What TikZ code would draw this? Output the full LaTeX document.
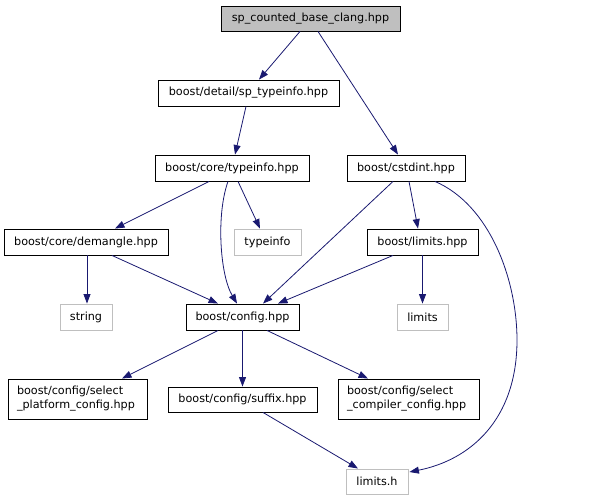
\documentclass[tikz,border=0pt]{standalone}
\usepackage{fontspec}
\setmainfont{DejaVu Sans}
\usetikzlibrary{arrows.meta}
\definecolor{edgeblue}{HTML}{191970}
\definecolor{sysgray}{HTML}{BFBFBF}
\tikzset{
  box/.style={draw=black, line width=0.9pt, fill=white, inner sep=0pt, minimum height=26pt,
    font=\fontsize{11.2}{14}\selectfont},
  sysbox/.style={box, draw=sysgray},
  topbox/.style={box, fill=sysgray},
  twoline/.style={align=left, minimum height=40pt},
  dep/.style={draw=edgeblue, line width=0.8pt, -{Triangle[length=9.5pt,width=7pt]}}
}
\begin{document}
\begin{tikzpicture}[x=1pt,y=-1pt]
\useasboundingbox (0,0) rectangle (597,500);
\node[topbox, minimum width=179pt, minimum height=25pt] (top) at (310.5,18.5) {sp\_counted\_base\_clang.hpp};
\node[box, minimum width=181pt] (sptype) at (248.5,93) {boost/detail/sp\_typeinfo.hpp};
\node[box, minimum width=154pt] (coretype) at (232,168) {boost/core/typeinfo.hpp};
\node[box, minimum width=118pt] (cstdint) at (406,168) {boost/cstdint.hpp};
\node[box, minimum width=164pt] (demangle) at (86,242) {boost/core/demangle.hpp};
\node[sysbox, minimum width=67pt] (typeinfo) at (267.5,242) {typeinfo};
\node[box, minimum width=111pt] (limitshpp) at (422.5,242) {boost/limits.hpp};
\node[sysbox, minimum width=52pt] (string) at (86,317) {string};
\node[box, minimum width=113pt] (config) at (242.5,317) {boost/config.hpp};
\node[sysbox, minimum width=51pt] (limits) at (422.5,317) {limits};
\node[box, twoline, minimum width=139pt, text width=121pt] (platform) at (77.5,399) {boost/config/select\\\_platform\_config.hpp};
\node[box, minimum width=149pt, minimum height=25pt] (suffix) at (242.5,399.5) {boost/config/suffix.hpp};
\node[box, twoline, minimum width=141pt, text width=123pt] (compiler) at (408.5,399) {boost/config/select\\\_compiler\_config.hpp};
\node[sysbox, minimum width=62pt, minimum height=25pt] (limitsh) at (377,481.5) {limits.h};

\draw[dep] ([xshift=-10.5pt]top.south) -- ([xshift=10.5pt]sptype.north);
\draw[dep] ([xshift=7.5pt]top.south) -- ([xshift=-8pt]cstdint.north);
\draw[dep] ([xshift=-2.5pt]sptype.south) -- ([xshift=3pt]coretype.north);
\draw[dep] ([xshift=-23pt]coretype.south) -- ([xshift=29pt]demangle.north);
\draw[dep] ([xshift=-4pt]coretype.south) .. controls (216,215) and (220,275) .. ([xshift=-5.5pt]config.north);
\draw[dep] ([xshift=6pt]coretype.south) -- ([xshift=-7.5pt]typeinfo.north);
\draw[dep] ([xshift=-13pt]cstdint.south) -- ([xshift=20.5pt]config.north);
\draw[dep] ([xshift=3pt]cstdint.south) -- ([xshift=-4.5pt]limitshpp.north);
\draw[dep] ([xshift=29pt]cstdint.south) .. controls (490,205) and (517,280) .. (517,340)
  .. controls (517,420) and (470,460) .. ([yshift=9.5pt,xshift=1pt]limitsh.east);
\draw[dep] ([xshift=-29.5pt]limitshpp.south) -- ([xshift=35.5pt]config.north);
\draw[dep] (limitshpp.south) -- (limits.north);
\draw[dep] ([xshift=1pt]demangle.south) -- ([xshift=1pt]string.north);
\draw[dep] ([xshift=26pt]demangle.south) -- ([xshift=-24.5pt]config.north);
\draw[dep] ([xshift=-24.5pt]config.south) -- ([xshift=44.5pt]platform.north);
\draw[dep] (config.south) -- (suffix.north);
\draw[dep] ([xshift=24.5pt]config.south) -- ([xshift=-40.5pt]compiler.north);
\draw[dep] ([xshift=20.5pt]suffix.south) -- ([xshift=-19pt]limitsh.north);
\end{tikzpicture}
\end{document}
